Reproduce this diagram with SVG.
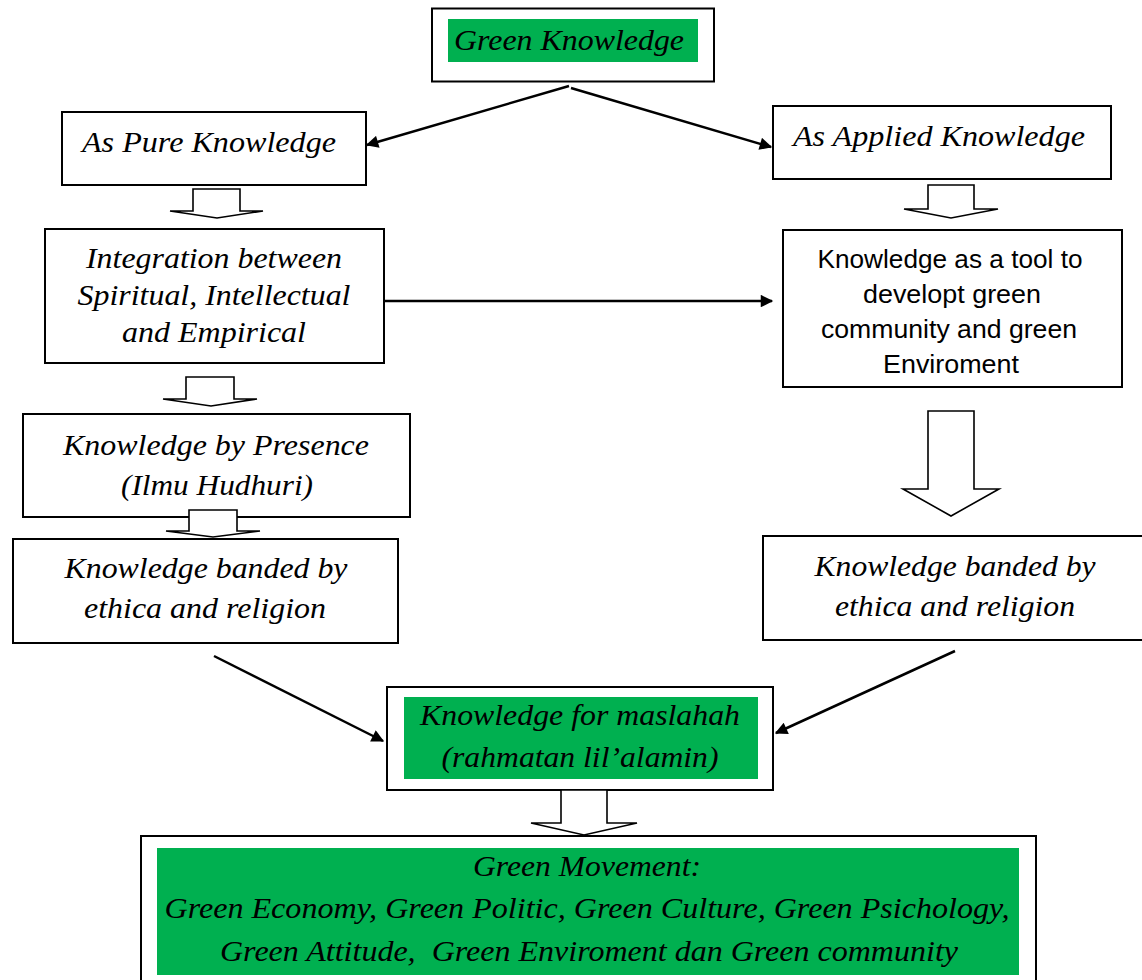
<svg xmlns="http://www.w3.org/2000/svg" width="1142" height="980" viewBox="0 0 1142 980">
<style>
.box{fill:#fff;stroke:#000;stroke-width:2}
.green{fill:#00B050;stroke:none}
.t{font-family:"Liberation Serif","Times New Roman",serif;font-style:italic;font-size:30px;fill:#000;text-anchor:middle}
.s{font-family:"Liberation Sans",Arial,sans-serif;font-size:26px;fill:#000;text-anchor:middle}
.pre{white-space:pre}
.blk{fill:#fff;stroke:#000;stroke-width:1.6;stroke-linejoin:miter}
.con{fill:none;stroke:#000;stroke-width:2.5}
</style>
<defs>
<marker id="ah" viewBox="0 0 10 10" refX="9" refY="5" markerWidth="6" markerHeight="5" markerUnits="strokeWidth" orient="auto">
<path d="M0,0 L10,5 L0,10 z" fill="#000"/>
</marker>
</defs>
<rect width="1142" height="980" fill="#fff"/>

<g id="green-knowledge">
<rect class="box" x="432" y="8.5" width="282" height="73"/>
<rect class="green" x="448" y="19" width="250" height="43"/>
<text class="t" x="569" y="50" textLength="230" lengthAdjust="spacingAndGlyphs">Green Knowledge</text>
</g>

<g id="pure-knowledge">
<rect class="box" x="62" y="112" width="304" height="73"/>
<text class="t" x="209" y="152" textLength="254" lengthAdjust="spacingAndGlyphs">As Pure Knowledge</text>
</g>

<g id="applied-knowledge">
<rect class="box" x="773" y="106" width="338" height="73"/>
<text class="t" x="939" y="146" textLength="292" lengthAdjust="spacingAndGlyphs">As Applied Knowledge</text>
</g>

<g id="integration">
<rect class="box" x="45" y="229" width="339" height="134"/>
<text class="t" x="214" y="268" textLength="256" lengthAdjust="spacingAndGlyphs">Integration between</text>
<text class="t" x="214" y="305" textLength="273" lengthAdjust="spacingAndGlyphs">Spiritual, Intellectual</text>
<text class="t" x="214" y="342" textLength="184" lengthAdjust="spacingAndGlyphs">and Empirical</text>
</g>

<g id="tool">
<rect class="box" x="783" y="230" width="339" height="157"/>
<text class="s" x="950" y="268" textLength="265" lengthAdjust="spacingAndGlyphs">Knowledge as a tool to</text>
<text class="s" x="952" y="303" textLength="178" lengthAdjust="spacingAndGlyphs">developt green</text>
<text class="s" x="949" y="338" textLength="256" lengthAdjust="spacingAndGlyphs">community and green</text>
<text class="s" x="951" y="373" textLength="136" lengthAdjust="spacingAndGlyphs">Enviroment</text>
</g>

<g id="presence">
<rect class="box" x="23" y="414" width="387" height="103"/>
<text class="t" x="216" y="455" textLength="306" lengthAdjust="spacingAndGlyphs">Knowledge by Presence</text>
<text class="t" x="217" y="495" textLength="192" lengthAdjust="spacingAndGlyphs">(Ilmu Hudhuri)</text>
</g>

<g id="banded-left">
<rect class="box" x="13" y="539" width="385" height="104"/>
<text class="t" x="206" y="578" textLength="283" lengthAdjust="spacingAndGlyphs">Knowledge banded by</text>
<text class="t" x="205" y="618" textLength="242" lengthAdjust="spacingAndGlyphs">ethica and religion</text>
</g>

<g id="banded-right">
<rect class="box" x="763" y="536" width="385" height="104"/>
<text class="t" x="955" y="576" textLength="281" lengthAdjust="spacingAndGlyphs">Knowledge banded by</text>
<text class="t" x="955" y="616" textLength="240" lengthAdjust="spacingAndGlyphs">ethica and religion</text>
</g>

<g id="maslahah">
<rect class="box" x="387" y="687" width="386" height="103"/>
<rect class="green" x="404" y="697" width="354" height="82"/>
<text class="t" x="580" y="725" textLength="320" lengthAdjust="spacingAndGlyphs">Knowledge for maslahah</text>
<text class="t" x="580" y="767" textLength="277" lengthAdjust="spacingAndGlyphs">(rahmatan lil’alamin)</text>
</g>

<g id="green-movement">
<rect class="box" x="141" y="836" width="895" height="160"/>
<rect class="green" x="157" y="848" width="862" height="127"/>
<text class="t" x="587" y="876" textLength="228" lengthAdjust="spacingAndGlyphs">Green Movement:</text>
<text class="t" x="587" y="918" textLength="845" lengthAdjust="spacingAndGlyphs">Green Economy, Green Politic, Green Culture, Green Psichology,</text>
<text class="t pre" x="589" y="961" textLength="738" lengthAdjust="spacingAndGlyphs">Green Attitude,  Green Enviroment dan Green community</text>
</g>

<g id="connectors">
<line class="con" x1="569" y1="86" x2="367" y2="145" marker-end="url(#ah)"/>
<line class="con" x1="571" y1="88" x2="771" y2="147" marker-end="url(#ah)"/>
<line class="con" x1="385" y1="301" x2="772" y2="301" marker-end="url(#ah)"/>
<line class="con" x1="214" y1="656" x2="383" y2="741" marker-end="url(#ah)"/>
<line class="con" x1="955" y1="651" x2="776" y2="733" marker-end="url(#ah)"/>
<polygon class="blk" points="193,189 240,189 240,211 263,211 217,218 170,211 193,211"/>
<polygon class="blk" points="186,377 234,377 234,399 257,399 211,406 163,399 186,399"/>
<polygon class="blk" points="189,510 237,510 237,531 260,531 213,537 166,531 189,531"/>
<polygon class="blk" points="928,185 974,185 974,209 998,209 951,218 904,209 928,209"/>
<polygon class="blk" points="928,411 974,411 974,489 999,489 951,516 903,489 928,489"/>
<polygon class="blk" points="561,790 607,790 607,823 637,823 584,835 531,823 561,823"/>
</g>
</svg>
